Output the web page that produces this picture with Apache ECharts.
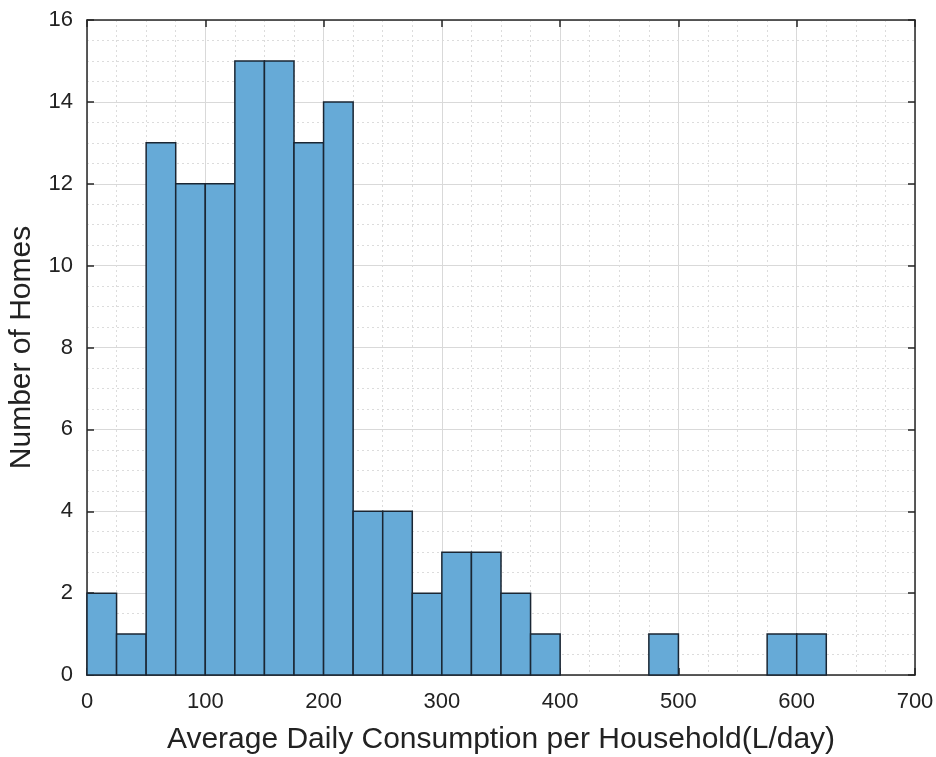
<!DOCTYPE html>
<html>
<head>
<meta charset="utf-8">
<script src="https://cdn.jsdelivr.net/npm/echarts@6/dist/echarts.min.js"></script>
<style>
  html, body { margin: 0; padding: 0; background: #fff; }
  #container { width: 936px; height: 757px; }
</style>
</head>
<body>
<div id="container"></div>
<script>
// histogram bins (L/day), width 25
var binStart = [0, 25, 50, 75, 100, 125, 150, 175, 200, 225, 250, 275, 300, 325, 350, 375, 475, 575, 600];
var binEnd   = [25, 50, 75, 100, 125, 150, 175, 200, 225, 250, 275, 300, 325, 350, 375, 400, 500, 600, 625];
var counts   = [2, 1, 13, 12, 12, 15, 15, 13, 14, 4, 4, 2, 3, 3, 2, 1, 1, 1, 1];

var xTicks = [0, 700, 100];
var yTicks = [0, 16, 2];

var axisColor = '#262626';
var font = 'Liberation Sans, Arial, sans-serif';

var bins = binStart.map(function (s, i) { return [s, binEnd[i], counts[i]]; });

var chart = echarts.init(document.getElementById('container'));

var option = {
  backgroundColor: '#fff',
  animation: false,
  grid: {
    left: 87, right: 21, top: 20, bottom: 82,
    show: false,
    containLabel: false,
    outerBoundsMode: 'none'
  },
  xAxis: [{
    type: 'value',
    min: xTicks[0], max: xTicks[1], interval: xTicks[2],
    position: 'bottom',
    name: 'Average Daily Consumption per Household(L/day)',
    nameLocation: 'middle',
    nameGap: 50,
    nameTextStyle: { color: '#222', fontSize: 30, fontFamily: font },
    axisLine: { show: true, onZero: false, lineStyle: { color: axisColor, width: 1.5 } },
    axisTick: { show: true, inside: true, length: 7, lineStyle: { color: axisColor, width: 1.5 } },
    axisLabel: { color: '#222', fontSize: 22, fontFamily: font, margin: 16 },
    splitLine: { show: true, lineStyle: { color: '#d9d9d9', width: 1 } },
    minorTick: { show: false, splitNumber: 4 },
    minorSplitLine: { show: true, lineStyle: { color: '#dcdcdc', type: [2, 3], width: 1 } }
  }, {
    type: 'value',
    min: xTicks[0], max: xTicks[1], interval: xTicks[2],
    position: 'top',
    axisLine: { show: true, onZero: false, lineStyle: { color: axisColor, width: 1.5 } },
    axisTick: { show: true, inside: true, length: 7, lineStyle: { color: axisColor, width: 1.5 } },
    axisLabel: { show: false },
    splitLine: { show: false }
  }],
  yAxis: [{
    type: 'value',
    min: yTicks[0], max: yTicks[1], interval: yTicks[2],
    position: 'left',
    name: 'Number of Homes',
    nameLocation: 'middle',
    nameGap: 50,
    nameTextStyle: { color: '#222', fontSize: 30, fontFamily: font },
    axisLine: { show: true, onZero: false, lineStyle: { color: axisColor, width: 1.5 } },
    axisTick: { show: true, inside: true, length: 7, lineStyle: { color: axisColor, width: 1.5 } },
    axisLabel: { color: '#222', fontSize: 22, fontFamily: font, margin: 14 },
    splitLine: { show: true, lineStyle: { color: '#d9d9d9', width: 1 } },
    minorTick: { show: false, splitNumber: 4 },
    minorSplitLine: { show: true, lineStyle: { color: '#dcdcdc', type: [2, 3], width: 1 } }
  }, {
    type: 'value',
    min: yTicks[0], max: yTicks[1], interval: yTicks[2],
    position: 'right',
    axisLine: { show: true, onZero: false, lineStyle: { color: axisColor, width: 1.5 } },
    axisTick: { show: true, inside: true, length: 7, lineStyle: { color: axisColor, width: 1.5 } },
    axisLabel: { show: false },
    splitLine: { show: false }
  }],
  series: [{
    type: 'custom',
    xAxisIndex: 0,
    yAxisIndex: 0,
    data: bins,
    encode: { x: [0, 1], y: 2 },
    renderItem: function (params, api) {
      var p0 = api.coord([api.value(0), api.value(2)]);
      var p1 = api.coord([api.value(1), 0]);
      return {
        type: 'rect',
        shape: { x: p0[0], y: p0[1], width: p1[0] - p0[0], height: p1[1] - p0[1] },
        style: { fill: 'rgb(102,170,215)', stroke: '#1a2633', lineWidth: 1.5 }
      };
    }
  }]
};

chart.setOption(option);
</script>
</body>
</html>
